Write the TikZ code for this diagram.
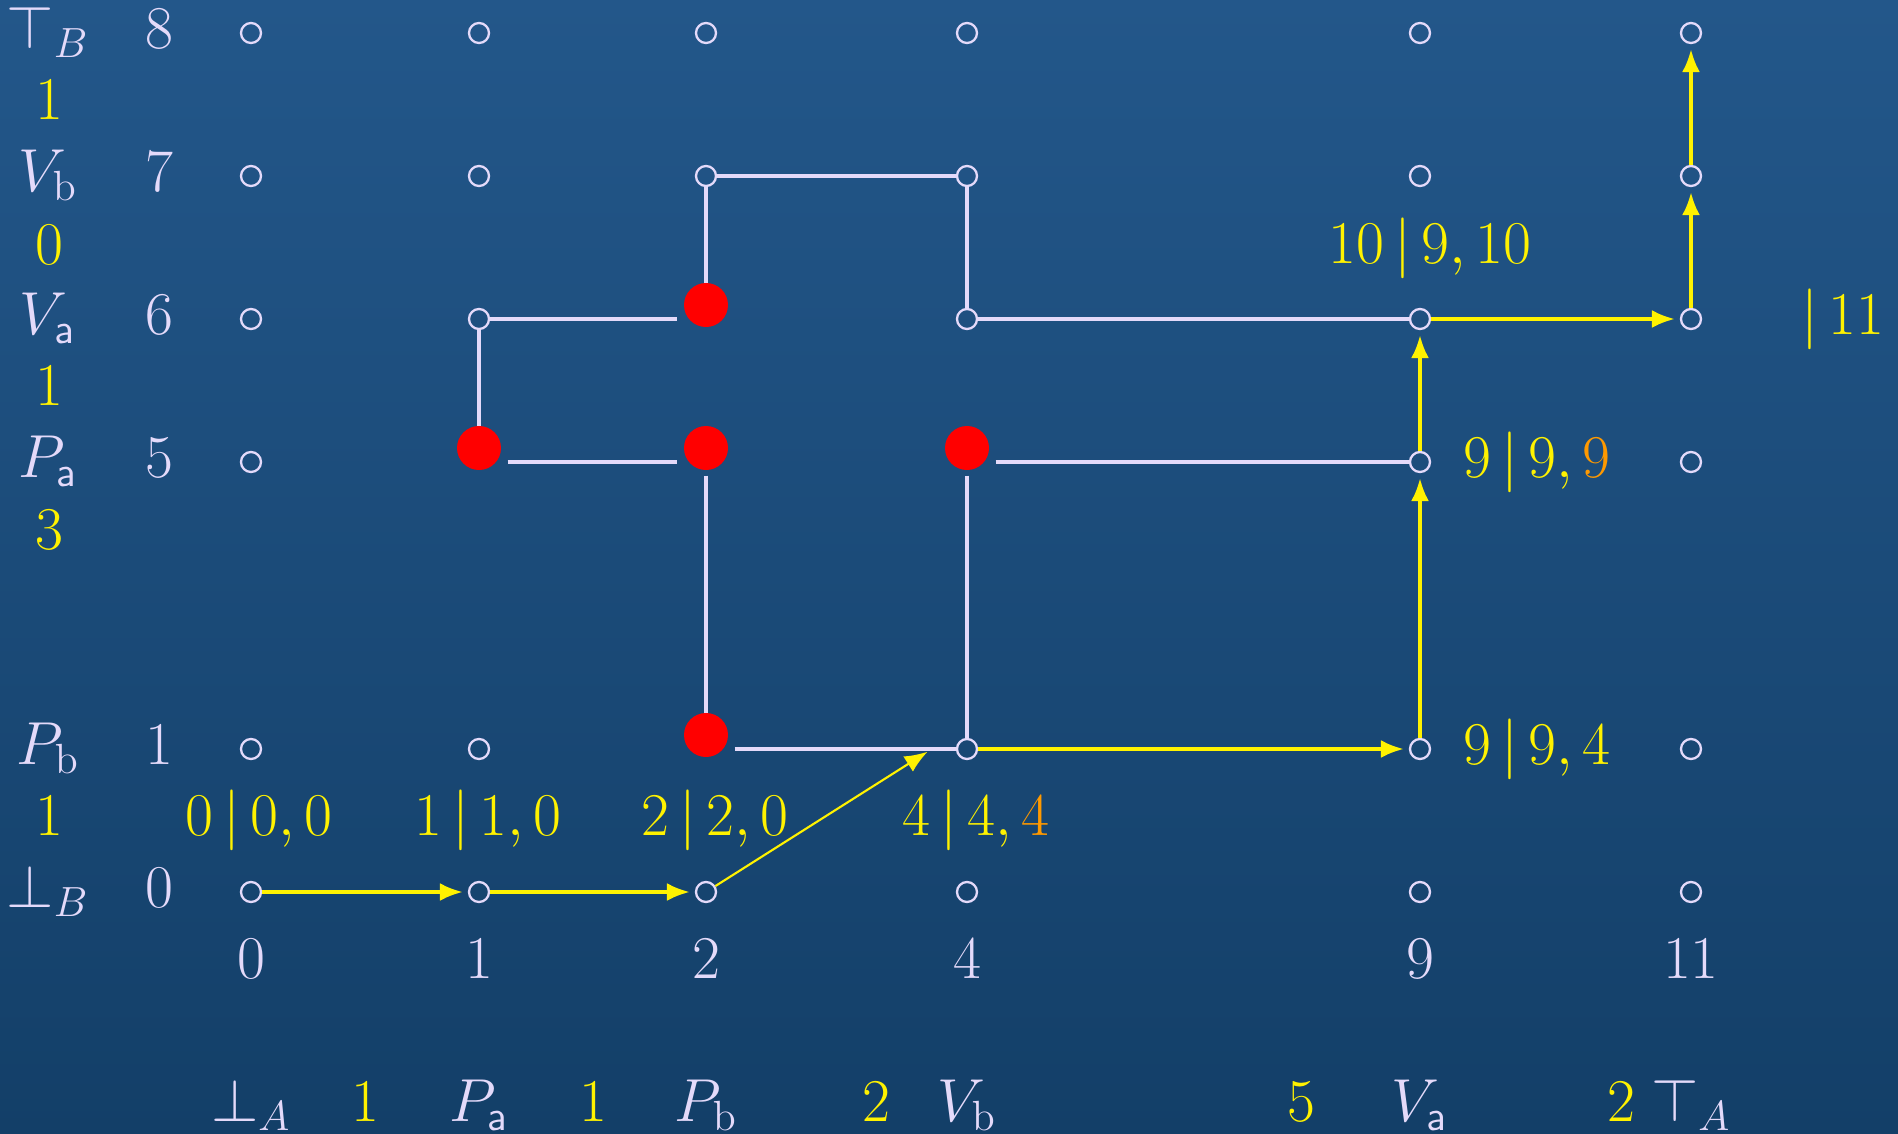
\documentclass[tikz,border=0pt]{standalone}
\usepackage{tikz}
\usetikzlibrary{arrows.meta,positioning,calc}

\definecolor{lav}{RGB}{228,218,250}
\definecolor{bgtop}{RGB}{35,87,138}
\definecolor{bgbot}{RGB}{19,63,104}
\definecolor{hiorange}{RGB}{255,153,0}

\begin{document}
\begin{tikzpicture}[
  every node/.style={font=\fontsize{16.5}{20}\selectfont, text=lav},
  dot/.style={circle, draw=lav, line width=0.65pt, minimum size=2mm, inner sep=0pt},
  hit/.style={rectangle, minimum width=5.6mm, minimum height=2.6mm, inner sep=0pt},
  link/.style={draw=lav, line width=0.9pt},
  walk/.style={draw=yellow, line width=1pt, -{Latex[length=2.3mm,width=1.8mm]}, shorten >=0.5mm},
  lbl/.style={anchor=base},
  wt/.style={anchor=base, text=yellow},
]

% Background
\shade[top color=bgtop, bottom color=bgbot] (0,0) rectangle (18.98,-11.34);
\useasboundingbox (0,0) rectangle (18.98,-11.34);

% Columns and rows
\foreach \c/\x in {0/2.51,1/4.79,2/7.06,4/9.67,9/14.20,11/16.91}
  \coordinate (col\c) at (\x,0);
\foreach \r/\y in {8/-0.33,7/-1.76,6/-3.19,5/-4.62,1/-7.49,0/-8.92}
  \coordinate (row\r) at (0,\y);
\coordinate (namecol) at (0.48,0);
\coordinate (numcol) at (1.59,0);
\coordinate (numrow) at (0,-9.78);
\coordinate (botrow) at (0,-11.21);

% Grid points
\foreach \r/\cols in {8/{0,1,2,4,9,11},7/{0,1,2,4,9,11},6/{0,1,4,9,11},5/{0,9,11},1/{0,1,4,9,11},0/{0,1,2,4,9,11}}
  \foreach \c in \cols
    \node[dot] (n\c-\r) at (col\c |- row\r) {};
\foreach \c/\r in {2/6,1/5,2/5,4/5,2/1}
  \node[hit] (n\c-\r) at (col\c |- row\r) {};

% Matching edges
\path[link] (n1-6) -- (n1-5) (n1-6) -- (n2-6) (n1-5) -- (n2-5)
  (n2-7) -- (n2-6) (n2-7) -- (n4-7) (n4-7) -- (n4-6) (n4-6) -- (n9-6)
  (n4-5) -- (n9-5) (n4-5) -- (n4-1) (n2-5) -- (n2-1) (n2-1) -- (n4-1);

% Hits
\foreach \c/\r in {2/6,1/5,2/5,4/5,2/1}
  \fill[red] ([yshift=1.4mm]n\c-\r.center) circle (2.2mm);

% Path
\draw[walk] (n0-0) -- (n1-0);
\draw[walk] (n1-0) -- (n2-0);
\draw[walk, line width=0.6pt] (n2-0) -- ([xshift=-2.4mm]n4-1.west);
\draw[walk] (n4-1) -- (n9-1);
\draw[walk] (n9-1) -- (n9-5);
\draw[walk] (n9-5) -- (n9-6);
\draw[walk] (n9-6) -- (n11-6);
\draw[walk] (n11-6) -- (n11-7);
\draw[walk] (n11-7) -- (n11-8);

% Row labels
\foreach \r/\name in {8/\top_B,7/V_{\mathrm b},6/V_{\mathsf a},5/P_{\mathsf a},1/P_{\mathrm b},0/\bot_B} {
  \node[lbl, yshift=-1.5mm] (name\r) at (namecol |- row\r) {$\name$};
  \node[lbl, yshift=-1.5mm] (num\r) at (numcol |- row\r) {$\r$};
}
\node[wt] (w87) at (0.49,-1.19) {$1$};
\node[wt] (w76) at (0.49,-2.64) {$0$};
\node[wt] (w65) at (0.49,-4.05) {$1$};
\node[wt] (w51) at (0.49,-5.49) {$3$};
\node[wt] (w10) at (0.49,-8.35) {$1$};

% Column labels
\foreach \c/\name in {0/\bot_A,1/P_{\mathsf a},2/P_{\mathrm b},4/V_{\mathrm b},9/V_{\mathsf a},11/\top_A} {
  \node[lbl] (cnum\c) at (col\c |- numrow) {$\c$};
  \node[lbl] (cname\c) at (col\c |- botrow) {$\name$};
}
\node[wt] (v01) at (3.65,-11.21) {$1$};
\node[wt] (v12) at (5.93,-11.21) {$1$};
\node[wt] (v24) at (8.76,-11.21) {$2$};
\node[wt] (v49) at (13.01,-11.21) {$5$};
\node[wt] (v911) at (16.21,-11.21) {$2$};

% Scores
\node[wt] (s00) at (2.59,-8.35) {$0\,|\,0,0$};
\node[wt] (s10) at (4.88,-8.35) {$1\,|\,1,0$};
\node[wt] (s20) at (7.15,-8.35) {$2\,|\,2,0$};
\node[wt] (s41) at (9.76,-8.35) {$4\,|\,4,\textcolor{hiorange}{4}$};
\node[wt] (s91) at (15.37,-7.64) {$9\,|\,9,4$};
\node[wt] (s95) at (15.37,-4.77) {$9\,|\,9,\textcolor{hiorange}{9}$};
\node[wt] (s96) at (14.30,-2.63) {$10\,|\,9,10$};
\node[wt] (s116) at (18.43,-3.34) {$|\,11$};

\end{tikzpicture}
\end{document}
